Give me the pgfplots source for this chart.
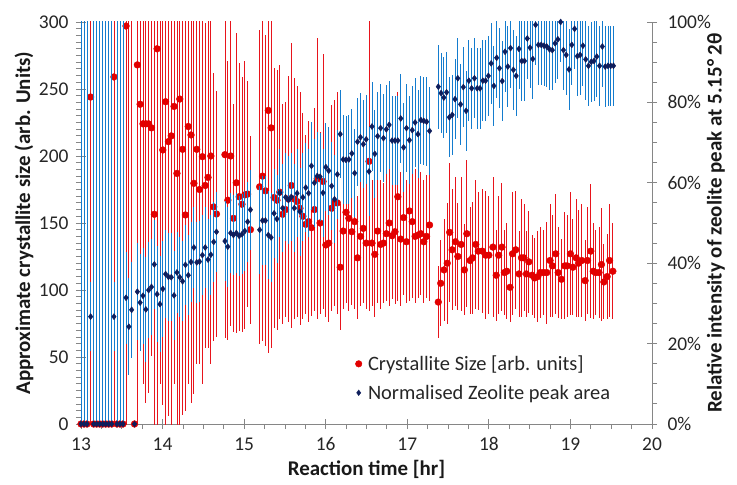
\documentclass[border=0pt]{standalone}
\usepackage{pgfplots}
\usepackage{pgfplotstable}
\pgfplotsset{compat=1.18}
\usepackage{fontspec}
\setmainfont{Carlito}
\definecolor{redm}{RGB}{226,0,0}
\definecolor{errred}{RGB}{232,20,28}
\definecolor{errredlight}{RGB}{244,105,105}
\definecolor{navy}{RGB}{14,30,92}
\definecolor{errblue}{RGB}{20,124,206}
\definecolor{errbluelight}{RGB}{88,165,226}
\definecolor{axisgray}{RGB}{134,134,134}

\pgfplotstableread{
x y e
13.000 0 0
13.037 0 0
13.074 0 0
13.118 244 260
13.155 0 0
13.192 0 0
13.229 0 0
13.266 0 0
13.303 0 0
13.340 0 0
13.377 0 0
13.404 259 270
13.441 0 0
13.478 0 0
13.515 0 0
13.552 297 300
13.656 0 0
13.691 268 270
13.725 238.6 170
13.760 224 194
13.795 224 208
13.829 224 201
13.864 221 170
13.899 156.5 170
13.933 280 290
14.003 204.5 190
14.037 240.5 245
14.072 210.7 205
14.107 215 220
14.141 237 207
14.176 187 195
14.211 242.5 250
14.245 205 198
14.280 156 146
14.315 222 192
14.349 215.7 200
14.384 179.6 157
14.419 205 160
14.453 175 130
14.488 199.5 170
14.523 178 121
14.557 184 127
14.592 200 155
14.627 162 100
14.661 156.7 92
14.765 201 137
14.800 167 104
14.835 200 127
14.869 153.5 85
14.904 180 112
14.939 169.6 100
14.973 164 95
15.008 171 100
15.043 171.6 84
15.077 145 70
15.190 177 117
15.225 185 123
15.261 174 116
15.296 234 181
15.331 221 164
15.367 169 97
15.402 167 97
15.437 173 95
15.472 156.5 82
15.508 160 80
15.543 168 92
15.578 178 106
15.614 168 90
15.649 166 86
15.684 161 87
15.720 155 77
15.755 149 67
15.790 151 75
15.825 146.5 66
15.861 160 76
15.896 183 105
15.931 150 68
15.967 181 95
16.002 133.6 54
16.037 135 59
16.073 161 77
16.108 165 77
16.143 165 83
16.178 117 47
16.214 144 58
16.249 158 68
16.284 153.5 69
16.320 143.5 55
16.355 151 65
16.390 124 46
16.426 140 52
16.461 146 56
16.496 135 49
16.531 196 112
16.567 135 47
16.602 126.6 47
16.637 144 54
16.673 134 48
16.708 135 45
16.743 142 50
16.778 150 62
16.814 140.5 47
16.849 143.5 54
16.884 169.6 78
16.920 138 50
16.955 154 58
16.990 136 46
17.026 159 67
17.061 151 57
17.096 140 50
17.131 141 47
17.167 142 46
17.202 136 46
17.237 140 46
17.273 148.5 57
17.38 91 27
17.41 105 32
17.45 115 38
17.49 120 45
17.52 143 52
17.55 130 45
17.59 136 48
17.62 125 40
17.66 134 50
17.70 115 34
17.73 142 55
17.77 122 40
17.80 124 42
17.84 134 48
17.87 129 44
17.92 129 46
17.96 126 48
18.00 126 44
18.05 132 52
18.09 111 34
18.12 126 44
18.16 132 48
18.19 113 32
18.22 114 36
18.26 102 26
18.29 127 46
18.33 130 44
18.37 112 32
18.40 124 44
18.43 124 40
18.46 112 32
18.49 121 38
18.53 111 30
18.56 109 30
18.60 110 34
18.63 113 34
18.67 113 32
18.71 113 38
18.75 122 42
18.78 118 38
18.82 127 45
18.85 113 34
18.89 108 30
18.93 118 40
18.96 118 38
19.00 127 46
19.03 117 36
19.07 124 44
19.10 120 40
19.14 122 42
19.18 107 30
19.21 122 40
19.25 129 50
19.28 114 36
19.31 113 32
19.35 113 34
19.38 119 42
19.41 106 28
19.45 110 32
19.48 122 42
19.52 114 36
}\redtab

\pgfplotstableread{
x y e
13.587 320 269
13.621 330 267
13.968 320 290
}\redoff

\pgfplotstableread{
x y e
13.000 0 120
13.037 0 120
13.074 0 120
13.118 26.7 8.5
13.155 0 120
13.192 0 120
13.229 0 120
13.266 0 120
13.303 0 120
13.340 0 120
13.377 0 120
13.404 26.7 8.5
13.441 0 120
13.478 0 120
13.515 0 120
13.552 31.4 11.5
13.587 24.2 12
13.621 28.4 12
13.656 0 0
13.691 32.9 12
13.725 30.2 12
13.760 31.9 12
13.795 28.5 13
13.829 33.3 12
13.864 34.1 12
13.899 39.7 11
13.933 32.3 12
13.968 29.8 12
14.003 33.6 12
14.037 37.3 11
14.072 36.6 11
14.107 36.5 11
14.141 32.0 11
14.176 37.7 10
14.211 36.5 10
14.245 35.5 10
14.280 39.6 10
14.315 37.0 10
14.349 40.3 10
14.384 43.9 10
14.419 40.2 10
14.453 40.4 10
14.488 42.0 10
14.523 43.9 10
14.557 40.9 10
14.592 42.1 10
14.627 45.3 10
14.661 47.8 10
14.765 45.5 10
14.800 44.1 10
14.835 47.5 10
14.869 47.0 10
14.904 47.5 10
14.939 46.8 10
14.973 47.2 10
15.008 48.0 10
15.043 50.3 10
15.077 53.3 10
15.190 48.3 11
15.225 50.6 11
15.261 50.6 11
15.296 47.0 11
15.331 46.4 11
15.367 52.4 11
15.402 51.0 11
15.437 57.5 11
15.472 53.7 11
15.508 56.4 11
15.543 55.7 11
15.578 56.5 11
15.614 53.7 11
15.649 57.4 11
15.684 52.8 11
15.720 56.4 11
15.755 58.8 11
15.790 57.4 11
15.825 64.2 11
15.861 60.0 11
15.896 61.7 11
15.931 61.5 11
15.967 57.5 11
16.002 63.9 11
16.037 63.0 11
16.073 59.2 11
16.108 55.9 11
16.143 62.1 11
16.178 72.1 11
16.214 65.8 11
16.249 65.7 11
16.284 65.8 11
16.320 67.3 11
16.355 62.4 11
16.390 70.2 11
16.426 71.3 11
16.461 69.6 11
16.496 70.8 11
16.531 62.8 11
16.567 74.0 11
16.602 67.2 11
16.637 71.6 11
16.673 73.6 11
16.708 71.1 11
16.743 73.3 11
16.778 74.4 11
16.814 70.5 11
16.849 70.5 11
16.884 70.5 11
16.920 76.0 11
16.955 68.8 11
16.990 73.6 11
17.026 70.6 11
17.061 73.1 11
17.096 75.0 11
17.131 72.1 11
17.167 75.6 11
17.202 75.4 11
17.237 75.2 11
17.273 72.9 11
17.380 83.9 10.5
17.414 82.3 10
17.448 81.2 10
17.482 82.5 10
17.516 76.3 10
17.551 76.9 10
17.585 80.8 10
17.619 86.0 10
17.653 79.5 10
17.687 83.8 10
17.721 77.9 10
17.755 85.4 10
17.789 83.5 10
17.823 86.0 10
17.857 83.5 10
17.892 83.5 10
17.926 85.4 10
17.960 85.4 10
17.994 86.6 10
18.028 89.7 10
18.062 84.1 10
18.096 91.1 10
18.130 88.5 10
18.164 85.3 10
18.198 92.6 10
18.232 88.9 10
18.266 93.5 10
18.300 88.1 10
18.335 86.6 10
18.369 93.3 10
18.403 90.3 10
18.437 90.3 10
18.471 95.9 10
18.505 93.6 10
18.539 90.8 10
18.573 99.3 10
18.607 94.3 10
18.642 94.3 10
18.676 94.1 10
18.710 93.9 10
18.744 93.2 10
18.778 93.0 10
18.812 94.7 10
18.846 95.7 10
18.880 100 10
18.914 93.0 10
18.948 91.8 10
18.983 88.2 10
19.017 94.3 10
19.051 98.3 10
19.085 91.5 10
19.119 91.8 10
19.153 94.1 10
19.187 90.7 10
19.221 89.1 10
19.255 90.1 10
19.289 90.3 10
19.323 91.4 10
19.357 89.1 10
19.391 93.9 10
19.426 88.9 10
19.460 89.1 10
19.494 89.1 10
19.528 89.1 10
}\bluetab

\pgfplotsset{
  common/.style={
    at={(0,0)}, anchor=south west,
    scale only axis, width=571bp, height=402bp,
    xmin=13, xmax=20,
    clip mode=individual,
    axis line style={draw=axisgray, line width=0.8bp},
    tick style={draw=axisgray, line width=0.8bp},
    tick align=center,
    major tick length=10bp, minor tick length=5bp,
    tick label style={font=\fontsize{19.5}{19.5}\selectfont, text=black!85},
    /pgf/number format/assume math mode=true,
  },
  errR/.style={error bars/.cd, y dir=both, y explicit, error mark=none,
    error bar style={line width=0.85bp, draw=errred, double=errredlight, double distance=0.9bp}},
  errB/.style={error bars/.cd, y dir=both, y explicit, error mark=none,
    error bar style={line width=0.85bp, draw=errblue, double=errbluelight, double distance=0.9bp}},
}

\begin{document}
\begin{tikzpicture}
\path[use as bounding box] (-81bp,-61bp) rectangle (656bp,424bp);
\begin{axis}[common,
  ymin=0, ymax=300,
  axis x line*=bottom, axis y line*=left,
  xtick={13,14,...,20}, minor x tick num=3,
  ytick={0,50,...,300}, minor y tick num=9,
  minor x tick style={yshift=-2.5bp},
  minor y tick style={xshift=-2.5bp},
  xticklabel style={yshift=-5bp},
  yticklabel style={xshift=-4bp},
  xlabel={Reaction time [hr]},
  ylabel={Approximate crystallite size (arb. Units)},
  every axis x label/.style={at={(axis description cs:0.5,-0.114)}, anchor=center, font=\bfseries\fontsize{21}{21}\selectfont, text=black!90},
  every axis y label/.style={at={(axis description cs:-0.100,0.5)}, anchor=center, rotate=90, font=\bfseries\fontsize{21}{21}\selectfont, text=black!90},
]
\addplot[only marks, mark=none, forget plot, errR] table[x=x, y=y, y error=e] {\redoff};
\addplot[only marks, mark=*, mark size=3.4bp, mark options={draw=redm, fill=redm}, forget plot, errR]
  table[x=x, y=y, y error=e] {\redtab};
\end{axis}
\begin{axis}[common,
  ymin=0, ymax=100,
  axis x line=none, axis y line*=right,
  ytick={0,20,...,100}, minor y tick num=3,
  minor y tick style={xshift=2.5bp},
  yticklabel={\pgfmathprintnumber{\tick}\%},
  yticklabel style={xshift=7bp},
  ylabel={Relative intensity of zeolite peak at 5.15° 2θ},
  every axis y label/.style={at={(axis description cs:1.112,0.5)}, anchor=center, rotate=90, font=\bfseries\fontsize{21}{21}\selectfont, text=black!90},
  legend style={at={(axis description cs:0.475,0.114)}, anchor=west, draw=none, fill=none,
    font=\fontsize{20.5}{22}\selectfont, text=black!85, row sep=9bp, column sep=4bp},
  legend cell align=left,
]
\addplot[only marks, mark=diamond*, mark size=3.0bp, mark options={draw=navy, fill=navy}, forget plot, errB]
  table[x=x, y=y, y error=e] {\bluetab};
\addlegendimage{only marks, mark=*, mark size=3.3bp, mark options={draw=redm, fill=redm}}
\addlegendentry{Crystallite Size [arb. units]}
\addlegendimage{only marks, mark=diamond*, mark size=2.8bp, mark options={draw=navy, fill=navy}}
\addlegendentry{Normalised Zeolite peak area}
\end{axis}
\end{tikzpicture}
\end{document}
